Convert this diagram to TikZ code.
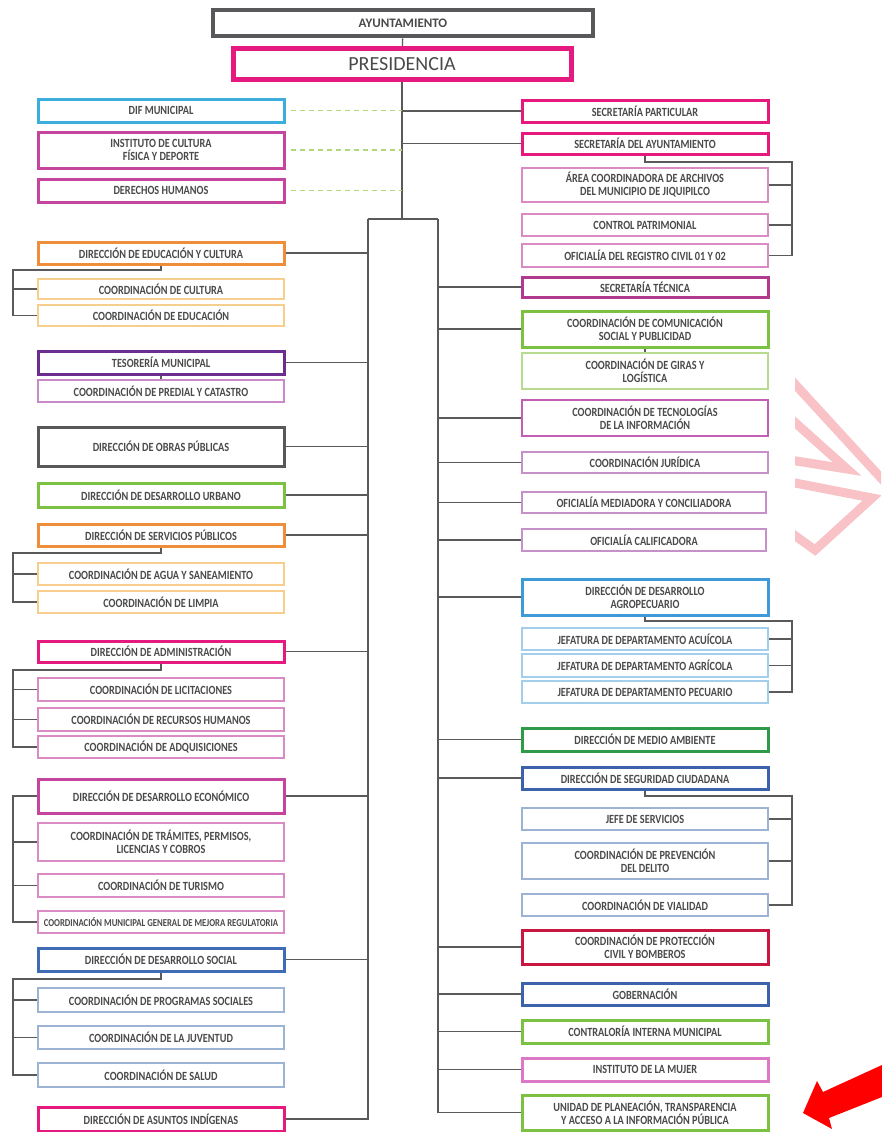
\documentclass[tikz,border=0pt]{standalone}
\usepackage{fontspec}
\newfontfamily\orgfont[FakeStretch=0.82]{Carlito}
\newfontfamily\orgfontw{Carlito}
\definecolor{texto}{HTML}{4A4A4A}
\definecolor{linea}{HTML}{5A5A5A}
\definecolor{grisT}{HTML}{58585A}
\definecolor{magenta}{HTML}{E5197E}
\definecolor{cian}{HTML}{3BAEDC}
\definecolor{rosa}{HTML}{C5449E}
\definecolor{rosaCl}{HTML}{DB8BC3}
\definecolor{naranja}{HTML}{EF8E3A}
\definecolor{naranjaCl}{HTML}{F7CE8E}
\definecolor{morado}{HTML}{6B2D90}
\definecolor{moradoCl}{HTML}{C88AC9}
\definecolor{verde}{HTML}{7CC142}
\definecolor{verdeCl}{HTML}{B9DB8F}
\definecolor{tecnica}{HTML}{B23A8E}
\definecolor{tecno}{HTML}{C25FB4}
\definecolor{lila}{HTML}{C690C9}
\definecolor{azulAgro}{HTML}{3E9BD8}
\definecolor{azulCl}{HTML}{A3CEEC}
\definecolor{verdeOsc}{HTML}{2F9A48}
\definecolor{azulSeg}{HTML}{3D62AC}
\definecolor{azulGris}{HTML}{9CB3D3}
\definecolor{carmesi}{HTML}{C81842}
\definecolor{mujer}{HTML}{DD78C6}
\definecolor{azulSoc}{HTML}{3E6BB3}
\definecolor{verdeGuion}{HTML}{B2D67C}
\definecolor{marcaRosa}{HTML}{F8C2C7}
\definecolor{rojo}{HTML}{FF0000}

\begin{document}
\begin{tikzpicture}[x=1pt, y=-1pt,
  caja/.style={draw, rectangle, fill=white, minimum width=246pt, inner sep=1pt, align=center, text=texto, font=\orgfont\bfseries\fontsize{12.5}{13}\selectfont},
  cajadir/.style={caja, line width=3pt},
  cajacoord/.style={caja, line width=1.5pt},
  enlace/.style={draw=linea, line width=1.3pt},
  guion/.style={draw=verdeGuion, line width=1.2pt, dash pattern=on 5pt off 4pt},
  marca/.style={draw=marcaRosa, line width=9pt, line join=miter}]
  \useasboundingbox[fill=white] (0,0) rectangle (881,1132);

  \node[caja, draw=grisT, line width=4pt, minimum width=380pt, minimum height=26pt, font=\orgfontw\bfseries\fontsize{13}{14}\selectfont] (ayun) at (403,23.5) {AYUNTAMIENTO};
  \node[caja, draw=magenta, line width=5pt, minimum width=338pt, minimum height=31pt, font=\orgfontw\fontsize{20}{21}\selectfont] (pres) at (402,64) {PRESIDENCIA};

  \node[cajadir, draw=cian, minimum height=23pt] (dif) at (161,110.5) {DIF MUNICIPAL};
  \node[cajadir, draw=rosa, minimum height=36pt] (instCult) at (161,150) {INSTITUTO DE CULTURA\\FÍSICA Y DEPORTE};
  \node[cajadir, draw=rosa, minimum height=23pt] (derHum) at (161,190.5) {DERECHOS HUMANOS};
  \node[cajadir, draw=naranja, minimum height=22pt] (dirEdu) at (161,253) {DIRECCIÓN DE EDUCACIÓN Y CULTURA};
  \node[cajacoord, draw=naranjaCl, minimum height=20pt] (coordCul) at (161,289) {COORDINACIÓN DE CULTURA};
  \node[cajacoord, draw=naranjaCl, minimum height=21pt] (coordEduc) at (161,315.5) {COORDINACIÓN DE EDUCACIÓN};
  \node[cajadir, draw=morado, minimum height=23pt] (tes) at (161,362.5) {TESORERÍA MUNICIPAL};
  \node[cajacoord, draw=moradoCl, minimum height=22pt] (predial) at (161,391) {COORDINACIÓN DE PREDIAL Y CATASTRO};
  \node[cajadir, draw=grisT, minimum height=39pt] (obras) at (161,446.5) {DIRECCIÓN DE OBRAS PÚBLICAS};
  \node[cajadir, draw=verde, minimum height=24pt] (urbano) at (161,495) {DIRECCIÓN DE DESARROLLO URBANO};
  \node[cajadir, draw=naranja, minimum height=22pt] (servicios) at (161,535) {DIRECCIÓN DE SERVICIOS PÚBLICOS};
  \node[cajacoord, draw=naranjaCl, minimum height=22pt] (agua) at (161,574) {COORDINACIÓN DE AGUA Y SANEAMIENTO};
  \node[cajacoord, draw=naranjaCl, minimum height=22pt] (limpia) at (161,602) {COORDINACIÓN DE LIMPIA};
  \node[cajadir, draw=magenta, minimum height=21pt] (admin) at (161,651.5) {DIRECCIÓN DE ADMINISTRACIÓN};
  \node[cajacoord, draw=rosaCl, minimum height=23pt] (licit) at (161,689.5) {COORDINACIÓN DE LICITACIONES};
  \node[cajacoord, draw=rosaCl, minimum height=23pt] (rh) at (161,719.5) {COORDINACIÓN DE RECURSOS HUMANOS};
  \node[cajacoord, draw=rosaCl, minimum height=22pt] (adq) at (161,747) {COORDINACIÓN DE ADQUISICIONES};
  \node[cajadir, draw=rosa, minimum height=34pt] (eco) at (161,796) {DIRECCIÓN DE DESARROLLO ECONÓMICO};
  \node[cajacoord, draw=rosaCl, minimum height=38pt] (tramites) at (161,842) {COORDINACIÓN DE TRÁMITES, PERMISOS,\\LICENCIAS Y COBROS};
  \node[cajacoord, draw=rosaCl, minimum height=23pt] (turismo) at (161,885.5) {COORDINACIÓN DE TURISMO};
  \node[cajacoord, draw=rosaCl, minimum height=22pt, font=\orgfont\bfseries\fontsize{10.6}{11}\selectfont] (mejora) at (161,922) {COORDINACIÓN MUNICIPAL GENERAL DE MEJORA REGULATORIA};
  \node[cajadir, draw=azulSoc, minimum height=23pt] (social) at (161,959.5) {DIRECCIÓN DE DESARROLLO SOCIAL};
  \node[cajacoord, draw=azulGris, minimum height=24pt] (programas) at (161,1000) {COORDINACIÓN DE PROGRAMAS SOCIALES};
  \node[cajacoord, draw=azulGris, minimum height=23pt] (juventud) at (161,1037.5) {COORDINACIÓN DE LA JUVENTUD};
  \node[cajacoord, draw=azulGris, minimum height=24pt] (salud) at (161,1075) {COORDINACIÓN DE SALUD};
  \node[cajadir, draw=magenta, minimum height=24pt] (indigenas) at (161,1119) {DIRECCIÓN DE ASUNTOS INDÍGENAS};

  \node[cajadir, draw=magenta, minimum height=22pt] (secPart) at (645,111) {SECRETARÍA PARTICULAR};
  \node[cajadir, draw=magenta, minimum height=21pt] (secAyu) at (645,143.5) {SECRETARÍA DEL AYUNTAMIENTO};
  \node[cajacoord, draw=rosaCl, minimum height=34pt] (archivos) at (645,185) {ÁREA COORDINADORA DE ARCHIVOS\\DEL MUNICIPIO DE JIQUIPILCO};
  \node[cajacoord, draw=rosaCl, minimum height=22pt] (control) at (645,225) {CONTROL PATRIMONIAL};
  \node[cajacoord, draw=rosaCl, minimum height=23pt] (registro) at (645,255.5) {OFICIALÍA DEL REGISTRO CIVIL 01 Y 02};
  \node[cajadir, draw=tecnica, minimum height=20pt] (secTec) at (645,287) {SECRETARÍA TÉCNICA};
  \node[cajadir, draw=verde, minimum height=36pt] (comu) at (645,329) {COORDINACIÓN DE COMUNICACIÓN\\SOCIAL Y PUBLICIDAD};
  \node[cajacoord, draw=verdeCl, minimum height=36pt] (giras) at (645,371) {COORDINACIÓN DE GIRAS Y\\LOGÍSTICA};
  \node[cajacoord, draw=tecno, minimum height=36pt] (tecnologias) at (645,418) {COORDINACIÓN DE TECNOLOGÍAS\\DE LA INFORMACIÓN};
  \node[cajacoord, draw=lila, minimum height=21pt] (juridica) at (645,462.5) {COORDINACIÓN JURÍDICA};
  \node[cajacoord, draw=lila, minimum height=21pt, minimum width=244pt] (mediadora) at (644,502.5) {OFICIALÍA MEDIADORA Y CONCILIADORA};
  \node[cajacoord, draw=lila, minimum height=22pt, minimum width=244pt] (calif) at (644,540) {OFICIALÍA CALIFICADORA};
  \node[cajadir, draw=azulAgro, minimum height=36pt] (agro) at (645,597) {DIRECCIÓN DE DESARROLLO\\AGROPECUARIO};
  \node[cajacoord, draw=azulCl, minimum height=22pt] (acuicola) at (645,639) {JEFATURA DE DEPARTAMENTO ACUÍCOLA};
  \node[cajacoord, draw=azulCl, minimum height=23pt] (agricola) at (645,665.5) {JEFATURA DE DEPARTAMENTO AGRÍCOLA};
  \node[cajacoord, draw=azulCl, minimum height=22pt] (pecuario) at (645,692) {JEFATURA DE DEPARTAMENTO PECUARIO};
  \node[cajadir, draw=verdeOsc, minimum height=23pt] (medio) at (645,739.5) {DIRECCIÓN DE MEDIO AMBIENTE};
  \node[cajadir, draw=azulSeg, minimum height=22pt] (seguridad) at (645,778) {DIRECCIÓN DE SEGURIDAD CIUDADANA};
  \node[cajacoord, draw=azulGris, minimum height=22pt] (servJefe) at (645,819) {JEFE DE SERVICIOS};
  \node[cajacoord, draw=azulGris, minimum height=36pt] (prevencion) at (645,861) {COORDINACIÓN DE PREVENCIÓN\\DEL DELITO};
  \node[cajacoord, draw=azulGris, minimum height=22pt] (vialidad) at (645,905) {COORDINACIÓN DE VIALIDAD};
  \node[cajadir, draw=carmesi, minimum height=34pt] (proteccion) at (645,947) {COORDINACIÓN DE PROTECCIÓN\\CIVIL Y BOMBEROS};
  \node[cajadir, draw=azulSeg, minimum height=22pt] (gobernacion) at (645,994) {GOBERNACIÓN};
  \node[cajadir, draw=verde, minimum height=23pt] (contraloria) at (645,1031.5) {CONTRALORÍA INTERNA MUNICIPAL};
  \node[cajadir, draw=mujer, minimum height=23pt] (mujerInst) at (645,1069.5) {INSTITUTO DE LA MUJER};
  \node[cajadir, draw=verde, minimum height=35pt] (unidad) at (645,1112.5) {UNIDAD DE PLANEACIÓN, TRANSPARENCIA\\Y ACCESO A LA INFORMACIÓN PÚBLICA};

  \coordinate (tj) at (402,219);
  \coordinate (bi) at (368,219);
  \coordinate (bd) at (438,219);
  \draw[enlace] (ayun) -- (pres);
  \draw[enlace] (pres.south) -- (tj);
  \draw[enlace] (bi) -- (bd);
  \draw[enlace] (bi) |- (indigenas.east);
  \draw[enlace] (bd) |- (unidad.west);
  \draw[enlace] (secPart.west) -- (tj |- secPart.west);
  \draw[enlace] (secAyu.west) -- (tj |- secAyu.west);
  \draw[guion] ([xshift=5pt]dif.east) -- (tj |- dif.east);
  \draw[guion] ([xshift=5pt]instCult.east) -- (tj |- instCult.east);
  \draw[guion] ([xshift=5pt]derHum.east) -- (tj |- derHum.east);

  \draw[enlace] (dirEdu.east) -- (bi |- dirEdu.east);
  \draw[enlace] (tes.east) -- (bi |- tes.east);
  \draw[enlace] (obras.east) -- (bi |- obras.east);
  \draw[enlace] (urbano.east) -- (bi |- urbano.east);
  \draw[enlace] (servicios.east) -- (bi |- servicios.east);
  \draw[enlace] (admin.east) -- (bi |- admin.east);
  \draw[enlace] (eco.east) -- (bi |- eco.east);
  \draw[enlace] (social.east) -- (bi |- social.east);

  \draw[enlace] (secTec.west) -- (bd |- secTec.west);
  \draw[enlace] (comu.west) -- (bd |- comu.west);
  \draw[enlace] (tecnologias.west) -- (bd |- tecnologias.west);
  \draw[enlace] (juridica.west) -- (bd |- juridica.west);
  \draw[enlace] (mediadora.west) -- (bd |- mediadora.west);
  \draw[enlace] (calif.west) -- (bd |- calif.west);
  \draw[enlace] (agro.west) -- (bd |- agro.west);
  \draw[enlace] (medio.west) -- (bd |- medio.west);
  \draw[enlace] (seguridad.west) -- (bd |- seguridad.west);
  \draw[enlace] (proteccion.west) -- (bd |- proteccion.west);
  \draw[enlace] (gobernacion.west) -- (bd |- gobernacion.west);
  \draw[enlace] (contraloria.west) -- (bd |- contraloria.west);
  \draw[enlace] (mujerInst.west) -- (bd |- mujerInst.west);

  \coordinate (kEdu) at (13,270);
  \draw[enlace] (dirEdu.south) |- (kEdu) |- (coordEduc.west);
  \draw[enlace] (kEdu |- coordCul.west) -- (coordCul.west);
  \draw[enlace] (tes.south) -- (predial.north);
  \coordinate (kServ) at (13,553);
  \draw[enlace] (servicios.south) |- (kServ) |- (limpia.west);
  \draw[enlace] (kServ |- agua.west) -- (agua.west);
  \coordinate (kAdm) at (13,670);
  \draw[enlace] (admin.south) |- (kAdm) |- (adq.west);
  \draw[enlace] (kAdm |- licit.west) -- (licit.west);
  \draw[enlace] (kAdm |- rh.west) -- (rh.west);
  \coordinate (kEco) at (13,796);
  \draw[enlace] (eco.west) -- (kEco) |- (mejora.west);
  \draw[enlace] (kEco |- tramites.west) -- (tramites.west);
  \draw[enlace] (kEco |- turismo.west) -- (turismo.west);
  \coordinate (kSoc) at (13,979);
  \draw[enlace] (social.south) |- (kSoc) |- (salud.west);
  \draw[enlace] (kSoc |- programas.west) -- (programas.west);
  \draw[enlace] (kSoc |- juventud.west) -- (juventud.west);

  \coordinate (kAyu) at (792,162);
  \draw[enlace] (secAyu.south) |- (kAyu) |- (registro.east);
  \draw[enlace] (kAyu |- archivos.east) -- (archivos.east);
  \draw[enlace] (kAyu |- control.east) -- (control.east);
  \draw[enlace] (comu.south) -- (giras.north);
  \coordinate (kAgro) at (792,621);
  \draw[enlace] (agro.south) |- (kAgro) |- (pecuario.east);
  \draw[enlace] (kAgro |- acuicola.east) -- (acuicola.east);
  \draw[enlace] (kAgro |- agricola.east) -- (agricola.east);
  \coordinate (kSeg) at (792,796);
  \draw[enlace] (seguridad.south) |- (kSeg) |- (vialidad.east);
  \draw[enlace] (kSeg |- servJefe.east) -- (servJefe.east);
  \draw[enlace] (kSeg |- prevencion.east) -- (prevencion.east);

  \begin{scope}
    \clip (795,370) rectangle (881,570);
    \draw[marca] (782,370) -- (892,490);
    \draw[marca] (790,418) -- (847,469) -- (790,460);
    \draw[marca] (790,482) -- (872,498) -- (815,550) -- (790,532);
  \end{scope}

  \fill[rojo] (803,1113) -- (817,1081) -- (823,1092) -- (882,1065) -- (882,1097) -- (829,1118) -- (832,1129) -- cycle;
\end{tikzpicture}
\end{document}
